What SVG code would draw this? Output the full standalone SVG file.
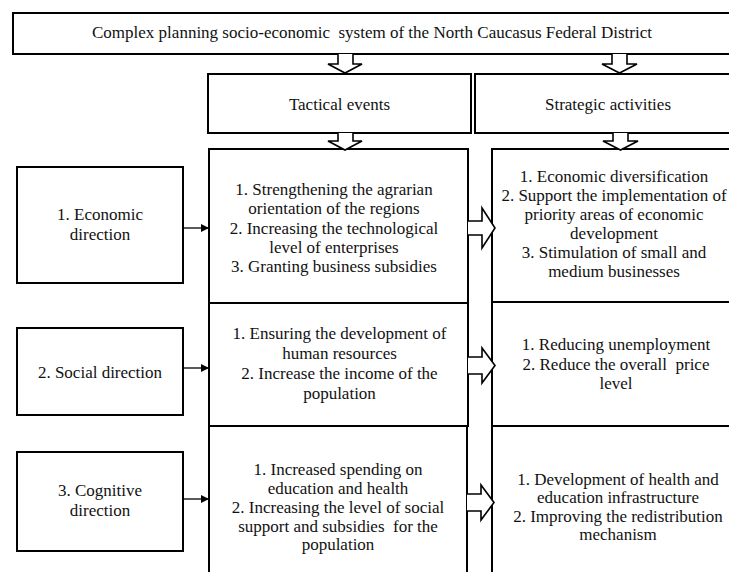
<svg xmlns="http://www.w3.org/2000/svg" width="729" height="572" viewBox="0 0 729 572">
  <style>
    .box { fill: #ffffff; stroke: #000000; stroke-width: 2; }
    .blk { fill: #ffffff; stroke: #000000; stroke-width: 1.6; stroke-linejoin: miter; }
    .lnk { fill: none; stroke: #000000; stroke-width: 1.3; }
    text { font-family: "Liberation Serif", "Times New Roman", serif; font-size: 17px; fill: #111111; text-anchor: middle; }
  </style>
  <defs>
    <marker id="tri" viewBox="0 0 10 10" refX="10" refY="5" markerWidth="8" markerHeight="8" markerUnits="userSpaceOnUse" orient="auto">
      <path d="M0,0 L10,5 L0,10 Z" fill="#000000"/>
    </marker>
  </defs>
  <rect width="729" height="572" fill="#ffffff"/>

  <!-- top level system -->
  <g id="system">
    <rect class="box" x="13" y="13" width="730" height="41"/>
    <text x="372" y="38" xml:space="preserve">Complex planning socio-economic  system of the North Caucasus Federal District</text>
  </g>

  <g id="tactical">
    <rect class="box" x="208" y="74" width="263" height="59"/>
    <text x="339.5" y="110">Tactical events</text>
  </g>

  <g id="strategic">
    <rect class="box" x="475" y="74" width="270" height="59"/>
    <text x="608" y="110">Strategic activities</text>
  </g>

  <!-- directions -->
  <g id="dir-economic">
    <rect class="box" x="17" y="167" width="166" height="116"/>
    <text x="100" y="220">1. Economic</text>
    <text x="100" y="240">direction</text>
  </g>

  <g id="dir-social">
    <rect class="box" x="17" y="328" width="166" height="87"/>
    <text x="100" y="378">2. Social direction</text>
  </g>

  <g id="dir-cognitive">
    <rect class="box" x="17" y="452" width="166" height="99"/>
    <text x="100" y="496">3. Cognitive</text>
    <text x="100" y="516">direction</text>
  </g>

  <!-- tactical column -->
  <g id="tac-economic">
    <rect class="box" x="209" y="149" width="259" height="154"/>
    <text x="334" y="195">1. Strengthening the agrarian</text>
    <text x="334" y="214">orientation of the regions</text>
    <text x="334" y="234">2. Increasing the technological</text>
    <text x="334" y="253">level of enterprises</text>
    <text x="334" y="272">3. Granting business subsidies</text>
  </g>

  <g id="tac-social">
    <rect class="box" x="209" y="303" width="259" height="123"/>
    <text x="339.5" y="339">1. Ensuring the development of</text>
    <text x="339.5" y="359">human resources</text>
    <text x="339.5" y="379">2. Increase the income of the</text>
    <text x="339.5" y="399">population</text>
  </g>

  <g id="tac-cognitive">
    <rect class="box" x="209" y="426" width="258" height="160"/>
    <text x="338" y="475">1. Increased spending on</text>
    <text x="338" y="494">education and health</text>
    <text x="338" y="513">2. Increasing the level of social</text>
    <text x="338" y="532" xml:space="preserve">support and subsidies  for the</text>
    <text x="338" y="550">population</text>
  </g>

  <!-- strategic column -->
  <g id="str-economic">
    <rect class="box" x="492" y="149" width="250" height="153"/>
    <text x="614" y="182">1. Economic diversification</text>
    <text x="614" y="201">2. Support the implementation of</text>
    <text x="614" y="220">priority areas of economic</text>
    <text x="614" y="239">development</text>
    <text x="614" y="258">3. Stimulation of small and</text>
    <text x="614" y="277">medium businesses</text>
  </g>

  <g id="str-social">
    <rect class="box" x="492" y="302" width="250" height="124"/>
    <text x="616" y="350">1. Reducing unemployment</text>
    <text x="616" y="370" xml:space="preserve">2. Reduce the overall  price</text>
    <text x="616" y="389">level</text>
  </g>

  <g id="str-cognitive">
    <rect class="box" x="492" y="426" width="250" height="160"/>
    <text x="618" y="485">1. Development of health and</text>
    <text x="618" y="503">education infrastructure</text>
    <text x="618" y="522">2. Improving the redistribution</text>
    <text x="618" y="540">mechanism</text>
  </g>

  <!-- connectors -->
  <g id="connectors">
    <!-- hollow block arrows, downward -->
    <path class="blk" d="M338,54 V64 H328 L345,73 L362,64 H353 V54"/>
    <path class="blk" d="M612,54 V64 H602 L619.5,73 L637,64 H627 V54"/>
    <path class="blk" d="M338,133 V141 H328 L345,150 L362,141 H353 V133"/>
    <path class="blk" d="M613,133 V141 H603 L620.5,150 L638,141 H628 V133"/>
    <!-- hollow block arrows, to the right -->
    <path class="blk" d="M468,221 H482 V208 L495,228 L482,248 V235 H468"/>
    <path class="blk" d="M468,357 H482 V348 L495,365.5 L482,383 V374 H468"/>
    <path class="blk" d="M467,494 H481 V485 L494,502.5 L481,520 V511 H467"/>
    <!-- thin arrows from directions -->
    <line class="lnk" x1="183" y1="228" x2="209" y2="228" marker-end="url(#tri)"/>
    <line class="lnk" x1="183" y1="368" x2="209" y2="368" marker-end="url(#tri)"/>
    <line class="lnk" x1="183" y1="499" x2="209" y2="499" marker-end="url(#tri)"/>
  </g>
</svg>
